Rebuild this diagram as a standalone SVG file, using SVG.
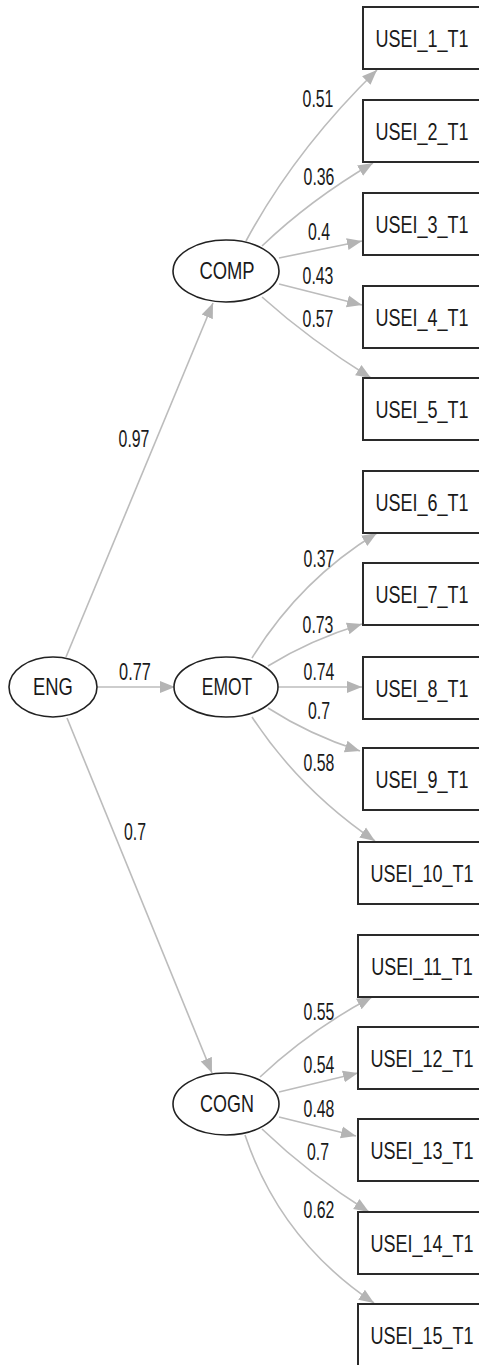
<svg xmlns="http://www.w3.org/2000/svg" width="479" height="1365" viewBox="0 0 479 1365">
<style>
.box{fill:#fff;stroke:#2a2a2a;stroke-width:2}
.lat{fill:#fff;stroke:#222;stroke-width:1.6}
.t{font-family:"Liberation Sans",Arial,sans-serif;font-size:24px;fill:#1a1a1a;text-anchor:middle}
.c{font-family:"Liberation Sans",Arial,sans-serif;font-size:23px;fill:#1a1a1a;text-anchor:middle}
.n{font-family:"Liberation Sans",Arial,sans-serif;font-size:23px;fill:#1a1a1a;text-anchor:middle}
.e{fill:none;stroke:#bcbcbc;stroke-width:1.6;marker-end:url(#ah)}
</style>
<defs>
<marker id="ah" markerUnits="userSpaceOnUse" markerWidth="16" markerHeight="14" refX="15" refY="6" orient="auto" viewBox="0 0 16 12">
<path d="M0,0 L15,6 L0,12 z" fill="#b4b4b4"/>
</marker>
</defs>
<rect width="479" height="1365" fill="#fff"/>
<g id="connectors">
<path class="e" d="M66,657 L213,303"/>
<path class="e" d="M97,687 L175,687"/>
<path class="e" d="M67,718 L212,1073"/>
<path class="e" d="M246,241 Q295,150 377,70"/>
<path class="e" d="M262,246 Q310,200 373,163"/>
<path class="e" d="M279,258 L362,241"/>
<path class="e" d="M279,284 L362,305"/>
<path class="e" d="M262,297 Q310,340 371,378"/>
<path class="e" d="M252,658 Q300,580 377,533"/>
<path class="e" d="M268,666 Q310,640 362,624"/>
<path class="e" d="M278,687 L362,687"/>
<path class="e" d="M268,708 Q310,735 360,751"/>
<path class="e" d="M252,717 Q300,790 375,841"/>
<path class="e" d="M260,1077 Q310,1030 372,997"/>
<path class="e" d="M279,1092 L358,1073"/>
<path class="e" d="M279,1117 L356,1136"/>
<path class="e" d="M262,1129 Q310,1175 369,1212"/>
<path class="e" d="M245,1135 Q280,1240 374,1303"/>
<g id="edge-labels">
<text class="n" transform="translate(318,107) scale(0.69,1)">0.51</text>
<text class="n" transform="translate(319,185) scale(0.69,1)">0.36</text>
<text class="n" transform="translate(319,240) scale(0.69,1)">0.4</text>
<text class="n" transform="translate(318,284) scale(0.69,1)">0.43</text>
<text class="n" transform="translate(318,327) scale(0.69,1)">0.57</text>
<text class="n" transform="translate(134,447) scale(0.69,1)">0.97</text>
<text class="n" transform="translate(135,680) scale(0.71,1)">0.77</text>
<text class="n" transform="translate(319,567) scale(0.69,1)">0.37</text>
<text class="n" transform="translate(318,633) scale(0.69,1)">0.73</text>
<text class="n" transform="translate(319,680) scale(0.69,1)">0.74</text>
<text class="n" transform="translate(319,719) scale(0.69,1)">0.7</text>
<text class="n" transform="translate(319,771) scale(0.69,1)">0.58</text>
<text class="n" transform="translate(135,840) scale(0.69,1)">0.7</text>
<text class="n" transform="translate(319,1020) scale(0.69,1)">0.55</text>
<text class="n" transform="translate(319,1073) scale(0.69,1)">0.54</text>
<text class="n" transform="translate(319,1117) scale(0.69,1)">0.48</text>
<text class="n" transform="translate(318,1160) scale(0.69,1)">0.7</text>
<text class="n" transform="translate(319,1218) scale(0.69,1)">0.62</text>
</g>
</g>
<g id="ENG"><ellipse class="lat" cx="53" cy="687" rx="44" ry="30"/><text class="c" transform="translate(53,695) scale(0.8,1)">ENG</text></g>
<g id="COMP"><ellipse class="lat" cx="226" cy="271" rx="53" ry="31"/><text class="c" transform="translate(227,279) scale(0.8,1)">COMP</text></g>
<g id="EMOT"><ellipse class="lat" cx="226" cy="687" rx="52" ry="30"/><text class="c" transform="translate(227,695) scale(0.76,1)">EMOT</text></g>
<g id="COGN"><ellipse class="lat" cx="226" cy="1104" rx="53" ry="31"/><text class="c" transform="translate(227,1112) scale(0.78,1)">COGN</text></g>
<g id="USEI_1_T1"><rect class="box" x="363" y="7" width="119" height="62"/><text class="t" transform="translate(422,47) scale(0.75,1)">USEI_1_T1</text></g>
<g id="USEI_2_T1"><rect class="box" x="363" y="100" width="119" height="62"/><text class="t" transform="translate(422,140) scale(0.75,1)">USEI_2_T1</text></g>
<g id="USEI_3_T1"><rect class="box" x="363" y="193" width="119" height="62"/><text class="t" transform="translate(422,233) scale(0.75,1)">USEI_3_T1</text></g>
<g id="USEI_4_T1"><rect class="box" x="363" y="286" width="119" height="62"/><text class="t" transform="translate(422,326) scale(0.75,1)">USEI_4_T1</text></g>
<g id="USEI_5_T1"><rect class="box" x="363" y="378" width="119" height="62"/><text class="t" transform="translate(422,418) scale(0.75,1)">USEI_5_T1</text></g>
<g id="USEI_6_T1"><rect class="box" x="363" y="471" width="119" height="62"/><text class="t" transform="translate(422,511) scale(0.75,1)">USEI_6_T1</text></g>
<g id="USEI_7_T1"><rect class="box" x="363" y="563" width="119" height="62"/><text class="t" transform="translate(422,603) scale(0.75,1)">USEI_7_T1</text></g>
<g id="USEI_8_T1"><rect class="box" x="363" y="657" width="119" height="62"/><text class="t" transform="translate(422,697) scale(0.75,1)">USEI_8_T1</text></g>
<g id="USEI_9_T1"><rect class="box" x="363" y="748" width="119" height="62"/><text class="t" transform="translate(422,788) scale(0.75,1)">USEI_9_T1</text></g>
<g id="USEI_10_T1"><rect class="box" x="358" y="842" width="124" height="62"/><text class="t" transform="translate(422,882) scale(0.75,1)">USEI_10_T1</text></g>
<g id="USEI_11_T1"><rect class="box" x="358" y="935" width="124" height="62"/><text class="t" transform="translate(422,975) scale(0.75,1)">USEI_11_T1</text></g>
<g id="USEI_12_T1"><rect class="box" x="358" y="1027" width="124" height="62"/><text class="t" transform="translate(422,1067) scale(0.75,1)">USEI_12_T1</text></g>
<g id="USEI_13_T1"><rect class="box" x="358" y="1119" width="124" height="62"/><text class="t" transform="translate(422,1159) scale(0.75,1)">USEI_13_T1</text></g>
<g id="USEI_14_T1"><rect class="box" x="358" y="1212" width="124" height="62"/><text class="t" transform="translate(422,1252) scale(0.75,1)">USEI_14_T1</text></g>
<g id="USEI_15_T1"><rect class="box" x="358" y="1304" width="124" height="64"/><text class="t" transform="translate(422,1344) scale(0.75,1)">USEI_15_T1</text></g>
</svg>
